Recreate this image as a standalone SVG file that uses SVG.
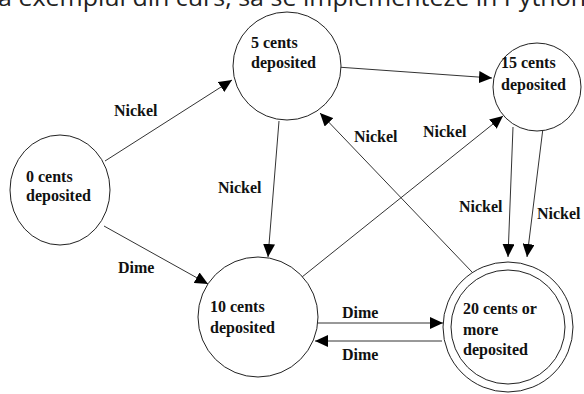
<svg xmlns="http://www.w3.org/2000/svg" width="584" height="394" viewBox="0 0 584 394">
<style>
.st{fill:#fff;stroke:#222;stroke-width:1}
.lbl{font-family:"Liberation Serif",serif;font-weight:bold;font-size:16px;fill:#111}
.cn{stroke:#333;stroke-width:1;fill:none;marker-end:url(#ah)}
.hdr{font-family:"Open Sans","Noto Sans",sans-serif;font-size:24px;fill:#222}
</style>
<defs>
<marker id="ah" markerUnits="userSpaceOnUse" markerWidth="14" markerHeight="12" refX="13" refY="6" orient="auto">
<path d="M0,0 L13,6 L0,12 z" fill="#000"/>
</marker>
</defs>
<rect width="584" height="394" fill="#fff"/>
<text class="hdr" x="-2" y="6" textLength="588" lengthAdjust="spacingAndGlyphs">ă exemplul din curs, să se implementeze în Python</text>
<g id="connectors">
<line class="cn" x1="105" y1="161" x2="232" y2="80"/>
<line class="cn" x1="104" y1="226" x2="208" y2="284"/>
<line class="cn" x1="279" y1="121" x2="268" y2="257"/>
<line class="cn" x1="337" y1="67" x2="492" y2="78"/>
<line class="cn" x1="302" y1="277" x2="503" y2="116"/>
<line class="cn" x1="472" y1="272" x2="320" y2="113"/>
<line class="cn" x1="513" y1="127" x2="508" y2="257"/>
<line class="cn" x1="543" y1="128" x2="527" y2="257"/>
<line class="cn" x1="317" y1="323" x2="443" y2="323"/>
<line class="cn" x1="442" y1="341" x2="315" y2="341"/>
<text class="lbl" x="114" y="116">Nickel</text>
<text class="lbl" x="118" y="273">Dime</text>
<text class="lbl" x="218" y="193">Nickel</text>
<text class="lbl" x="354" y="142">Nickel</text>
<text class="lbl" x="423" y="137">Nickel</text>
<text class="lbl" x="459" y="212">Nickel</text>
<text class="lbl" x="537" y="219">Nickel</text>
<text class="lbl" x="342" y="318">Dime</text>
<text class="lbl" x="342" y="360">Dime</text>
</g>
<g id="s0">
<ellipse class="st" cx="60" cy="190" rx="50" ry="55"/>
<text class="lbl" x="26" y="182">0 cents</text>
<text class="lbl" x="26" y="201">deposited</text>
</g>
<g id="s5">
<circle class="st" cx="287" cy="66" r="54"/>
<text class="lbl" x="251" y="48">5 cents</text>
<text class="lbl" x="251" y="68">deposited</text>
</g>
<g id="s15">
<circle class="st" cx="537" cy="87" r="44"/>
<text class="lbl" x="501" y="68">15 cents</text>
<text class="lbl" x="501" y="90">deposited</text>
</g>
<g id="s10">
<circle class="st" cx="258" cy="317" r="60"/>
<text class="lbl" x="210" y="312">10 cents</text>
<text class="lbl" x="210" y="333">deposited</text>
</g>
<g id="s20">
<circle class="st" cx="508" cy="327" r="65"/>
<circle class="st" cx="508" cy="327" r="57"/>
<text class="lbl" x="463" y="314">20 cents or</text>
<text class="lbl" x="463" y="335">more</text>
<text class="lbl" x="463" y="355">deposited</text>
</g>
</svg>
